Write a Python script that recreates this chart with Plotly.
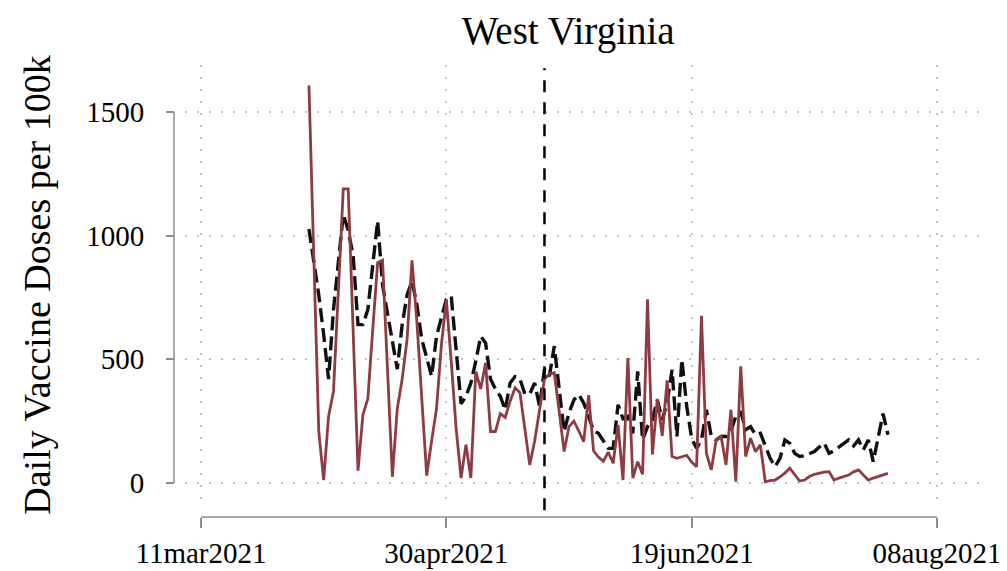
import pandas as pd
import plotly.graph_objs as go

# daily series, first value is 02apr2021
start_date = "2021-04-02"

actual_doses = [
    1606, 880, 208, 12, 270, 370, 780, 1188, 1188, 580,
    50, 276, 340, 620, 890, 900, 480, 25, 300, 420,
    580, 900, 650, 330, 30, 170, 300, 560, 740, 490,
    220, 20, 155, 20, 450, 380, 485, 208, 208, 280,
    265, 330, 385, 365, 220, 73, 170, 300, 420, 440,
    445, 290, 127, 228, 250, 210, 167, 355, 130, 105,
    88, 125, 80, 235, 12, 505, 20, 86, 35, 742,
    115, 340, 190, 415, 107, 100, 107, 112, 85, 66,
    676, 120, 53, 174, 188, 73, 296, 5, 471, 107,
    181, 127, 154, 5, 10, 12, 25, 40, 60, 35,
    8, 12, 26, 35, 40, 44, 46, 12, 20, 26,
    32, 45, 53, 32, 12, 20, 26, 32, 39,
]

synthetic_doses = [
    1026, 900, 760, 600, 420, 700, 880, 1086, 1020, 920,
    640, 640, 700, 880, 1059, 800, 680, 560, 460, 640,
    760, 816, 720, 580, 500, 431, 593, 674, 742, 755,
    553, 320, 350, 404, 492, 593, 566, 420, 380, 350,
    296, 404, 430, 420, 360, 360, 404, 309, 460, 431,
    553, 390, 208, 283, 336, 357, 323, 270, 210, 201,
    170, 140, 140, 316, 260, 269, 201, 451, 174, 228,
    255, 336, 255, 323, 458, 188, 499, 309, 180, 140,
    174, 296, 188, 174, 188, 188, 210, 269, 289, 215,
    228, 195, 201, 150, 100, 66, 100, 174, 160, 120,
    107, 110, 120, 127, 145, 161, 120, 130, 145, 161,
    174, 150, 174, 134, 174, 86, 180, 280, 195,
]

# lottery announcement
event_date = "2021-05-20"

x_ticks = ["2021-03-11", "2021-04-30", "2021-06-19", "2021-08-08"]
x_tick_labels = ["11mar2021", "30apr2021", "19jun2021", "08aug2021"]
y_ticks = [0, 500, 1000, 1500]

dates = pd.date_range(start_date, periods=len(actual_doses), freq="D")

serif = "Liberation Serif, Times New Roman, serif"
axis_grey = "#8c8c8c"
grid_grey = "#c4c4c4"

graph = []
graph.append(
    go.Scatter(
        x=dates,
        y=synthetic_doses,
        mode='lines',
        line=dict(color='#111111', width=3.4, dash='14px,6px'),
        name='Synthetic'
    )
)
graph.append(
    go.Scatter(
        x=dates,
        y=actual_doses,
        mode='lines',
        line=dict(color='#8f3b42', width=2.8),
        name='West Virginia'
    )
)

shapes = [
    # stata style axis lines, only over the labelled range
    dict(type='line', xref='paper', x0=0, x1=0, yref='y', y0=0, y1=1500,
         line=dict(color=axis_grey, width=1.5)),
    dict(type='line', xref='x', x0=x_ticks[0], x1=x_ticks[-1], yref='paper', y0=0, y1=0,
         line=dict(color=axis_grey, width=1.5)),
    dict(type='line', xref='x', x0=event_date, x1=event_date, yref='paper', y0=0.015, y1=0.993,
         line=dict(color='black', width=2.5, dash='12px,10px')),
]

# the page body adds 8px around the figure, so the figure is 8px smaller
layout = dict(
    width=999,
    height=563,
    margin=dict(l=166, r=22, t=57, b=54, autoexpand=False),
    paper_bgcolor='white',
    plot_bgcolor='white',
    showlegend=False,
    title=dict(text='West Virginia', x=0.486, xref='paper', xanchor='center',
               y=1 - 22 / 563, yref='container', yanchor='middle',
               font=dict(family=serif, size=39, color='black')),
    xaxis=dict(domain=[11 / 811, 1],
               range=['2021-03-07 17:44', '2021-08-17 18:46'],
               anchor='free', position=0, automargin=False,
               tickvals=x_ticks, ticktext=x_tick_labels,
               ticks='outside', ticklen=10, tickwidth=1.5, tickcolor=axis_grey,
               showline=False, zeroline=False,
               showgrid=True, gridcolor=grid_grey, gridwidth=1.5, griddash='2px,10px',
               tickfont=dict(family=serif, size=29, color='black')),
    yaxis=dict(domain=[12 / 452, 1],
               range=[-88.9, 1688.9],
               anchor='free', position=0, automargin=False,
               tickvals=y_ticks,
               ticks='outside', ticklen=8, tickwidth=1.5, tickcolor=axis_grey,
               ticklabelstandoff=16,
               showline=False, zeroline=False,
               showgrid=True, gridcolor=grid_grey, gridwidth=1.5, griddash='2px,10px',
               tickfont=dict(family=serif, size=29, color='black'),
               title=dict(text='Daily Vaccine Doses per 100k', standoff=22,
                          font=dict(family=serif, size=38, color='black'))),
    shapes=shapes,
)

fig = go.Figure(data=graph, layout=layout)
fig.write_html("out.html")
